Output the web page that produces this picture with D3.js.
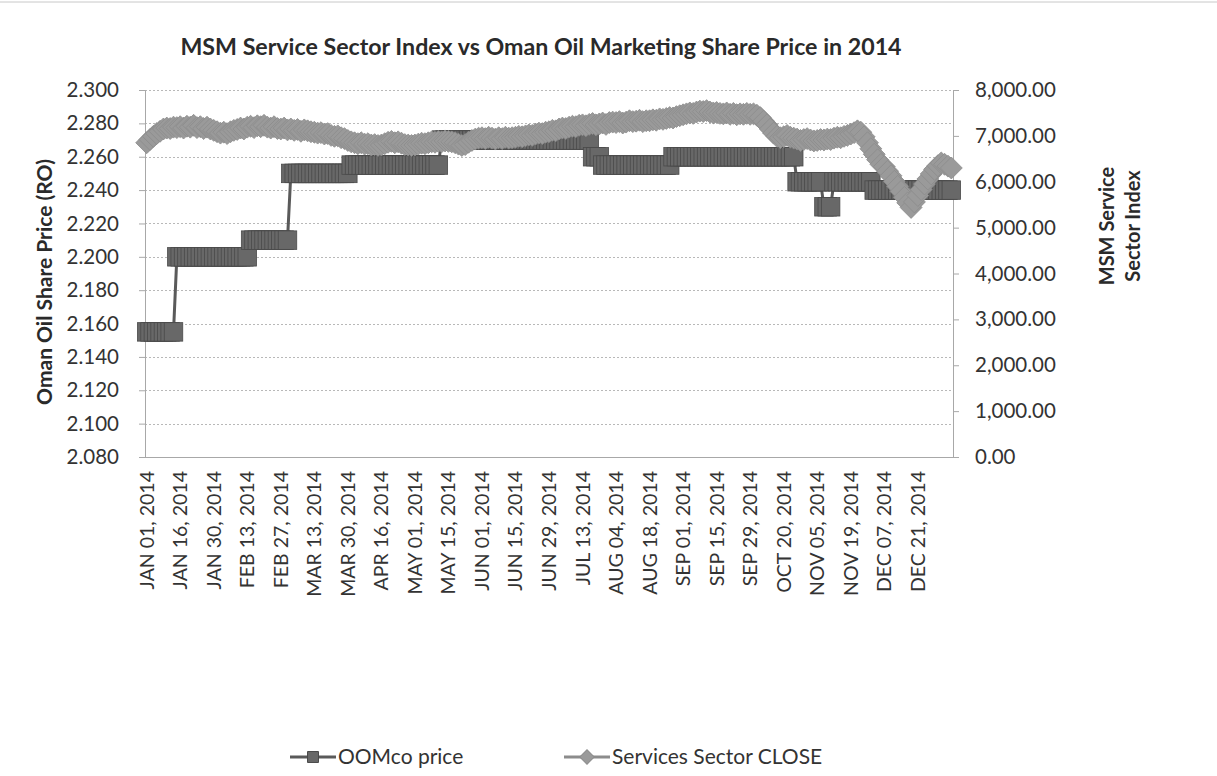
<!DOCTYPE html>
<html>
<head>
<meta charset="utf-8">
<script src="https://cdn.jsdelivr.net/npm/d3@7"></script>
<style>
body { margin: 0; background: #fff; }
text { font-family: Lato, "Open Sans", sans-serif; fill: #2a2a2a; }
.tick text { font-size: 20.5px; fill: #333; }
</style>
</head>
<body>
<div id="chart"></div>
<script>
var chartTitle = "MSM Service Sector Index vs Oman Oil Marketing Share Price in 2014";
var leftTitle = "Oman Oil Share Price (RO)";
var rightTitle = ["MSM Service", "Sector Index"];
var seriesNames = ["OOMco price", "Services Sector CLOSE"];

// one label every 10 trading days
var tickLabels = ["JAN 01, 2014", "JAN 16, 2014", "JAN 30, 2014", "FEB 13, 2014", "FEB 27, 2014",
	"MAR 13, 2014", "MAR 30, 2014", "APR 16, 2014", "MAY 01, 2014", "MAY 15, 2014", "JUN 01, 2014",
	"JUN 15, 2014", "JUN 29, 2014", "JUL 13, 2014", "AUG 04, 2014", "AUG 18, 2014", "SEP 01, 2014",
	"SEP 15, 2014", "SEP 29, 2014", "OCT 20, 2014", "NOV 05, 2014", "NOV 19, 2014", "DEC 07, 2014",
	"DEC 21, 2014"];
var labelEvery = 10;

var leftTicks = [2.08, 2.10, 2.12, 2.14, 2.16, 2.18, 2.20, 2.22, 2.24, 2.26, 2.28, 2.30];
var rightTicks = [0, 1000, 2000, 3000, 4000, 5000, 6000, 7000, 8000];

var oomcoPrice = [
	2.155, 2.155, 2.155, 2.155, 2.155, 2.155, 2.155, 2.155, 2.155, 2.200,
	2.200, 2.200, 2.200, 2.200, 2.200, 2.200, 2.200, 2.200, 2.200, 2.200,
	2.200, 2.200, 2.200, 2.200, 2.200, 2.200, 2.200, 2.200, 2.200, 2.200,
	2.200, 2.210, 2.210, 2.210, 2.210, 2.210, 2.210, 2.210, 2.210, 2.210,
	2.210, 2.210, 2.210, 2.250, 2.250, 2.250, 2.250, 2.250, 2.250, 2.250,
	2.250, 2.250, 2.250, 2.250, 2.250, 2.250, 2.250, 2.250, 2.250, 2.250,
	2.250, 2.255, 2.255, 2.255, 2.255, 2.255, 2.255, 2.255, 2.255, 2.255,
	2.255, 2.255, 2.255, 2.255, 2.255, 2.255, 2.255, 2.255, 2.255, 2.255,
	2.255, 2.255, 2.255, 2.255, 2.255, 2.255, 2.255, 2.255, 2.270, 2.270,
	2.270, 2.270, 2.270, 2.270, 2.270, 2.270, 2.270, 2.270, 2.270, 2.270,
	2.270, 2.270, 2.270, 2.270, 2.270, 2.270, 2.270, 2.270, 2.270, 2.270,
	2.270, 2.270, 2.270, 2.270, 2.270, 2.270, 2.270, 2.270, 2.270, 2.270,
	2.270, 2.270, 2.270, 2.270, 2.270, 2.270, 2.270, 2.270, 2.270, 2.270,
	2.270, 2.270, 2.270, 2.260, 2.260, 2.260, 2.255, 2.255, 2.255, 2.255,
	2.255, 2.255, 2.255, 2.255, 2.255, 2.255, 2.255, 2.255, 2.255, 2.255,
	2.255, 2.255, 2.255, 2.255, 2.255, 2.255, 2.255, 2.260, 2.260, 2.260,
	2.260, 2.260, 2.260, 2.260, 2.260, 2.260, 2.260, 2.260, 2.260, 2.260,
	2.260, 2.260, 2.260, 2.260, 2.260, 2.260, 2.260, 2.260, 2.260, 2.260,
	2.260, 2.260, 2.260, 2.260, 2.260, 2.260, 2.260, 2.260, 2.260, 2.260,
	2.260, 2.260, 2.260, 2.260, 2.245, 2.245, 2.245, 2.245, 2.245, 2.245,
	2.245, 2.245, 2.230, 2.230, 2.230, 2.245, 2.245, 2.245, 2.245, 2.245,
	2.245, 2.245, 2.245, 2.245, 2.245, 2.245, 2.245, 2.240, 2.240, 2.240,
	2.240, 2.240, 2.240, 2.240, 2.240, 2.240, 2.240, 2.240, 2.240, 2.240,
	2.240, 2.240, 2.240, 2.240, 2.240, 2.240, 2.240, 2.240, 2.240, 2.240, 2.240
];

var sectorClose = [
	6850, 6920, 6990, 7050, 7100, 7150, 7170, 7160, 7190, 7180,
	7200, 7170, 7210, 7190, 7230, 7180, 7200, 7160, 7190, 7150,
	7120, 7090, 7060, 7080, 7050, 7090, 7120, 7140, 7170, 7150,
	7190, 7210, 7180, 7220, 7200, 7230, 7190, 7170, 7200, 7160,
	7150, 7170, 7130, 7150, 7120, 7140, 7100, 7130, 7110, 7090,
	7080, 7060, 7070, 7040, 7050, 7010, 6990, 7000, 6960, 6940,
	6900, 6870, 6850, 6830, 6850, 6820, 6830, 6800, 6810, 6790,
	6800, 6830, 6860, 6880, 6850, 6870, 6840, 6810, 6800, 6790,
	6800, 6820, 6840, 6830, 6850, 6870, 6860, 6880, 6870, 6890,
	6880, 6870, 6850, 6820, 6790, 6810, 6860, 6900, 6930, 6950,
	6960, 6940, 6970, 6950, 6930, 6960, 6940, 6970, 6950, 6960,
	6970, 6990, 6980, 7000, 7020, 7010, 7040, 7060, 7050, 7080,
	7090, 7120, 7110, 7150, 7170, 7160, 7190, 7210, 7200, 7230,
	7240, 7220, 7250, 7270, 7240, 7260, 7280, 7250, 7290, 7300,
	7290, 7310, 7280, 7300, 7330, 7310, 7320, 7340, 7310, 7330,
	7330, 7350, 7340, 7370, 7360, 7380, 7400, 7390, 7420, 7440,
	7460, 7480, 7500, 7490, 7520, 7540, 7530, 7550, 7520, 7500,
	7510, 7490, 7480, 7500, 7470, 7490, 7460, 7480, 7470, 7490,
	7470, 7480, 7450, 7400, 7320, 7240, 7150, 7060, 6990, 6960,
	6980, 7010, 6970, 6950, 6930, 6900, 6920, 6940, 6910, 6890,
	6900, 6920, 6910, 6930, 6920, 6950, 6970, 6960, 6990, 7010,
	7040, 7070, 7110, 7080, 6980, 6850, 6720, 6600, 6480, 6380,
	6330, 6230, 6130, 6010, 5900, 5790, 5660, 5540, 5440, 5560,
	5700, 5830, 5950, 6060, 6170, 6270, 6350, 6410, 6380, 6340, 6300
];

var W = 1217, H = 776;
var plot = {left: 145, right: 953, top: 90, bottom: 457};
var priceColor = "#686868", priceEdge = "#4a4a4a";
var indexColor = "#9a9a9a", indexEdge = "#8c8c8c";

var svg = d3.select("#chart").append("svg")
	.attr("width", W).attr("height", H);

// faint scan border on top
svg.append("line").attr("x1", 0).attr("x2", W).attr("y1", 2).attr("y2", 2)
	.attr("stroke", "#c8c8c8").attr("stroke-width", 1);

var days = d3.range(oomcoPrice.length);
var x = d3.scaleBand().domain(days).range([plot.left, plot.right]).padding(0);
var yL = d3.scaleLinear().domain([2.08, 2.30]).range([plot.bottom, plot.top]);
var yR = d3.scaleLinear().domain([0, 8000]).range([plot.bottom, plot.top]);
function cx(i) { return x(i) + x.bandwidth() / 2; }

// title
svg.append("text")
	.attr("x", 541).attr("y", 55)
	.attr("text-anchor", "middle")
	.style("font-size", "23.2px").style("font-weight", "bold")
	.text(chartTitle);

// gridlines
svg.append("g").selectAll("line")
	.data(leftTicks).enter()
	.append("line")
	.attr("x1", plot.left).attr("x2", plot.right)
	.attr("y1", function(d) { return Math.round(yL(d)) + 0.5; })
	.attr("y2", function(d) { return Math.round(yL(d)) + 0.5; })
	.attr("stroke", "#b8b8b8")
	.attr("stroke-dasharray", "2,2");

// left axis
var leftAxis = svg.append("g")
	.attr("transform", "translate(" + plot.left + ",0)")
	.call(d3.axisLeft(yL).tickValues(leftTicks).tickFormat(d3.format(".3f")).tickSize(6).tickPadding(20));
leftAxis.select(".domain").attr("stroke", "#a8a8a8");
leftAxis.selectAll(".tick line").attr("stroke", "#a8a8a8");

// right axis
var rightAxis = svg.append("g")
	.attr("transform", "translate(" + plot.right + ",0)")
	.call(d3.axisRight(yR).tickValues(rightTicks).tickFormat(d3.format(",.2f")).tickSize(6).tickPadding(16));
rightAxis.select(".domain").attr("stroke", "#a8a8a8");
rightAxis.selectAll(".tick line").attr("stroke", "#a8a8a8");

// category axis
svg.append("line")
	.attr("x1", plot.left).attr("x2", plot.right)
	.attr("y1", plot.bottom + 0.5).attr("y2", plot.bottom + 0.5)
	.attr("stroke", "#a8a8a8");

svg.append("g").selectAll("text")
	.data(tickLabels).enter()
	.append("text")
	.attr("class", "xlabel")
	.attr("transform", function(d, k) {
		return "translate(" + (cx(k * labelEvery) + 7) + "," + (plot.bottom + 14) + ") rotate(-90)";
	})
	.attr("text-anchor", "end")
	.style("font-size", "19.5px").style("fill", "#333")
	.text(function(d) { return d; });

// axis titles
svg.append("text")
	.attr("transform", "translate(52,282) rotate(-90)")
	.attr("text-anchor", "middle")
	.style("font-size", "21px").style("font-weight", "bold")
	.text(leftTitle);

svg.append("g").selectAll("text")
	.data(rightTitle).enter()
	.append("text")
	.attr("transform", function(d, k) { return "translate(" + (1114 + k * 26) + ",226) rotate(-90)"; })
	.attr("text-anchor", "middle")
	.style("font-size", "20px").style("font-weight", "bold")
	.text(function(d) { return d; });

// price series
var priceLine = d3.line()
	.x(function(d, i) { return cx(i); })
	.y(function(d) { return yL(d); });

svg.append("path")
	.datum(oomcoPrice)
	.attr("d", priceLine)
	.attr("fill", "none")
	.attr("stroke", "#5a5a5a")
	.attr("stroke-width", 3);

var sq = 18.5;
svg.append("g").selectAll("rect")
	.data(oomcoPrice).enter()
	.append("rect")
	.attr("x", function(d, i) { return cx(i) - sq / 2; })
	.attr("y", function(d) { return yL(d) - sq / 2; })
	.attr("width", sq).attr("height", sq)
	.attr("fill", priceColor)
	.attr("stroke", priceEdge)
	.attr("stroke-width", 0.8);

// sector index series (secondary axis, on top)
var indexLine = d3.line()
	.x(function(d, i) { return cx(i); })
	.y(function(d) { return yR(d); });

svg.append("path")
	.datum(sectorClose)
	.attr("d", indexLine)
	.attr("fill", "none")
	.attr("stroke", indexEdge)
	.attr("stroke-width", 3);

var diamond = d3.symbol().type(d3.symbolSquare).size(240);
svg.append("g").selectAll("path")
	.data(sectorClose).enter()
	.append("path")
	.attr("d", diamond)
	.attr("transform", function(d, i) { return "translate(" + cx(i) + "," + yR(d) + ") rotate(45)"; })
	.attr("fill", indexColor)
	.attr("stroke", indexEdge)
	.attr("stroke-width", 0.8);

// legend
var legendY = 757;
var legend = [
	{name: seriesNames[0], x0: 290, color: priceColor, edge: priceEdge, line: "#5a5a5a", shape: "square"},
	{name: seriesNames[1], x0: 564, color: indexColor, edge: indexEdge, line: indexEdge, shape: "diamond"}
];
var lg = svg.append("g").selectAll("g")
	.data(legend).enter()
	.append("g")
	.attr("transform", function(d) { return "translate(" + d.x0 + "," + legendY + ")"; });

lg.append("line")
	.attr("x1", 0).attr("x2", 46).attr("y1", 0).attr("y2", 0)
	.attr("stroke", function(d) { return d.line; })
	.attr("stroke-width", 3);

lg.append("path")
	.attr("d", function(d) { return d3.symbol().type(d3.symbolSquare).size(d.shape == "square" ? 120 : 105)(); })
	.attr("transform", function(d) { return "translate(23,0)" + (d.shape == "diamond" ? " rotate(45)" : ""); })
	.attr("fill", function(d) { return d.color; })
	.attr("stroke", function(d) { return d.edge; });

lg.append("text")
	.attr("x", 48).attr("y", 0).attr("dy", "0.35em")
	.style("font-size", "21px").style("fill", "#333")
	.text(function(d) { return d.name; });
</script>
</body>
</html>
